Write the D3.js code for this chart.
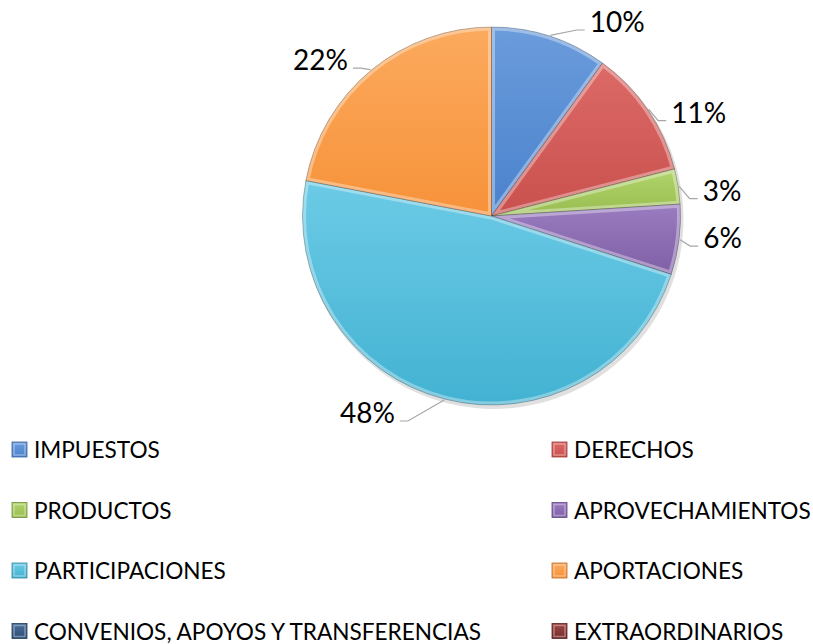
<!DOCTYPE html>
<html>
<head>
<meta charset="utf-8">
<script src="https://cdn.jsdelivr.net/npm/d3@7"></script>
<style>
  html, body { margin: 0; padding: 0; background: #fff; }
  svg { display: block; font-family: Lato, 'Open Sans', sans-serif; }
</style>
</head>
<body>
<svg id="chart"></svg>
<script>
const categories = [
  'IMPUESTOS', 'DERECHOS', 'PRODUCTOS', 'APROVECHAMIENTOS',
  'PARTICIPACIONES', 'APORTACIONES', 'CONVENIOS, APOYOS Y TRANSFERENCIAS', 'EXTRAORDINARIOS',
];
const values = [10, 11, 3, 6, 48, 22, 0, 0];
const baseColors = ['#4a82cc', '#c9504d', '#98bd4f', '#7f5fa6', '#43b2d2', '#f7923a', '#2c4d75', '#772c2a'];
const lightColors = ['#6b9cdc', '#dc6a67', '#b2d46c', '#9a7cc0', '#6ccbe6', '#fbaa5e', '#4a6d9a', '#9d4845'];

const width = 813;
const height = 644;
const cx = 491.5;
const cy = 216;
const radius = 189;

const svg = d3.select('#chart').attr('width', width).attr('height', height);
const defs = svg.append('defs');

categories.forEach((c, i) => {
  const g = defs.append('linearGradient')
    .attr('id', `grad-${i}`)
    .attr('x1', 0).attr('y1', 0).attr('x2', 0).attr('y2', 1);
  g.append('stop').attr('offset', '0%').attr('stop-color', lightColors[i]);
  g.append('stop').attr('offset', '100%').attr('stop-color', baseColors[i]);
});

const data = categories.map((name, i) => ({ name, value: values[i], i }));

const pie = d3.pie().sort(null).value((d) => d.value);
const arc = d3.arc().innerRadius(0).outerRadius(radius);
const arcs = pie(data).filter((d) => d.data.value > 0);

const plot = svg.append('g').attr('transform', `translate(${cx},${cy})`);

// soft shadow under the pie
plot.append('circle')
  .attr('cx', 2).attr('cy', 3).attr('r', radius + 1)
  .attr('fill', '#000').attr('opacity', 0.12);

const slices = plot.selectAll('g.slice')
  .data(arcs)
  .join('g')
  .attr('class', 'slice');

slices.append('clipPath')
  .attr('id', (d) => `clip-${d.data.i}`)
  .append('path')
  .attr('d', arc);

slices.append('path')
  .attr('d', arc)
  .attr('fill', (d) => `url(#grad-${d.data.i})`);

// bevel rim: light inner edge
slices.append('path')
  .attr('d', arc)
  .attr('fill', 'none')
  .attr('stroke', '#fff')
  .attr('stroke-opacity', 0.35)
  .attr('stroke-width', 7)
  .attr('stroke-linejoin', 'round')
  .attr('clip-path', (d) => `url(#clip-${d.data.i})`);

slices.append('path')
  .attr('d', arc)
  .attr('fill', 'none')
  .attr('stroke', '#000')
  .attr('stroke-opacity', 0.25)
  .attr('stroke-width', 1);

// percentage labels with leader lines, pushed a bit toward the sides
const labelR = 232;
const yMin = 21 - cy;
const yMax = 412 - cy;
const push = (8 * Math.PI) / 180;

const labels = svg.append('g').attr('transform', `translate(${cx},${cy})`);

arcs.forEach((d) => {
  const a = (d.startAngle + d.endAngle) / 2;
  const la = a + push * Math.sin(2 * a);
  let lx = labelR * Math.sin(la);
  let ly = -labelR * Math.cos(la);
  if (ly < yMin || ly > yMax) {
    ly = Math.max(yMin, Math.min(yMax, ly));
    lx = Math.sign(lx) * Math.sqrt(labelR * labelR - ly * ly);
  }
  const text = labels.append('text')
    .attr('x', lx)
    .attr('y', ly)
    .attr('text-anchor', 'middle')
    .attr('dominant-baseline', 'central')
    .attr('font-size', 28)
    .attr('fill', '#000')
    .text(`${d.data.value}%`);
  const w = text.node().getComputedTextLength();
  const right = lx > 0;
  const sx = (radius + 1) * Math.sin(a);
  const sy = -(radius + 1) * Math.cos(a);
  const ex = right ? lx - w / 2 - 5 : lx + w / 2 + 5;
  const ey = ly + 9;
  const bx = right ? ex - 8 : ex + 8;
  labels.insert('polyline', 'text')
    .attr('points', [[sx, sy], [bx, ey], [ex, ey]].map((p) => p.join(',')).join(' '))
    .attr('fill', 'none')
    .attr('stroke', '#a6a6a6')
    .attr('stroke-width', 1.2);
});

// legend
const legendX = [12, 552];
const legendY0 = 449.5;
const legendStep = 60.5;

const legend = svg.append('g')
  .selectAll('g')
  .data(data)
  .join('g')
  .attr('transform', (d, i) => `translate(${legendX[i % 2]},${legendY0 + Math.floor(i / 2) * legendStep})`);

legend.append('rect')
  .attr('x', 0).attr('y', -7.5)
  .attr('width', 15).attr('height', 15)
  .attr('fill', (d) => `url(#grad-${d.i})`)
  .attr('stroke', (d) => d3.color(baseColors[d.i]).darker(0.8))
  .attr('stroke-width', 0.8);

legend.append('rect')
  .attr('x', 2).attr('y', -5.5)
  .attr('width', 11).attr('height', 11)
  .attr('fill', 'none')
  .attr('stroke', '#fff')
  .attr('stroke-opacity', 0.35)
  .attr('stroke-width', 1.5);

legend.append('text')
  .attr('x', 22)
  .attr('y', 0)
  .attr('dominant-baseline', 'central')
  .attr('font-size', 22.6)
  .attr('fill', '#000')
  .text((d) => d.name);
</script>
</body>
</html>
